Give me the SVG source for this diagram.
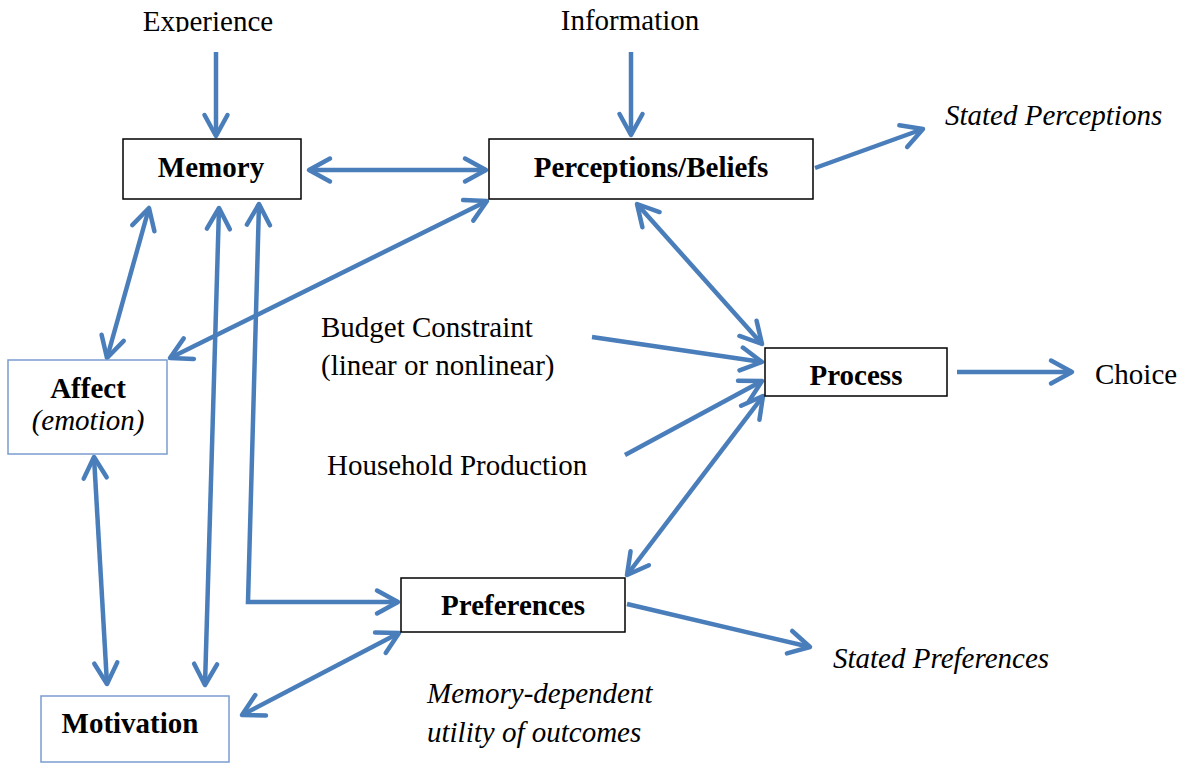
<svg xmlns="http://www.w3.org/2000/svg" width="1184" height="764" viewBox="0 0 1184 764">
<style>
.t{font-family:"Liberation Serif","Times New Roman",serif;font-size:29px;fill:#000}
.b{font-weight:bold}
.i{font-style:italic}
.box{fill:#fff;stroke:#000;stroke-width:1.5}
.bbox{fill:#fff;stroke:#7a9ccf;stroke-width:1.5}
.c{fill:none;stroke:#4a7ebb;stroke-width:4.5;stroke-linecap:butt;stroke-linejoin:miter}
</style>
<defs>
<marker id="ah" markerUnits="userSpaceOnUse" markerWidth="40" markerHeight="40" refX="0" refY="0" orient="auto-start-reverse" overflow="visible">
<path d="M-21,-11.5 L0,0 L-21,11.5" fill="none" stroke="#4a7ebb" stroke-width="4.5" stroke-linecap="round" stroke-linejoin="round"/>
</marker>
<clipPath id="topclip"><rect x="0" y="0" width="1184" height="32"/></clipPath>
</defs>
<rect width="1184" height="764" fill="#fff"/>
<g id="connectors">
<path class="c" d="M216,52 L216,136" marker-end="url(#ah)"/>
<path class="c" d="M631,52 L631,135" marker-end="url(#ah)"/>
<path class="c" d="M309,170 L486,170" marker-start="url(#ah)" marker-end="url(#ah)"/>
<path class="c" d="M815,168 L923,129" marker-end="url(#ah)"/>
<path class="c" d="M637,204 L762,344" marker-start="url(#ah)" marker-end="url(#ah)"/>
<path class="c" d="M592,337 L762,362" marker-end="url(#ah)"/>
<path class="c" d="M625,455 L762,381" marker-end="url(#ah)"/>
<path class="c" d="M627,575 L763,396" marker-start="url(#ah)" marker-end="url(#ah)"/>
<path class="c" d="M957,372 L1072,372" marker-end="url(#ah)"/>
<path class="c" d="M149,208 L107,358" marker-start="url(#ah)" marker-end="url(#ah)"/>
<path class="c" d="M487,201 L170,358" marker-start="url(#ah)" marker-end="url(#ah)"/>
<path class="c" d="M219,208 L205,685" marker-start="url(#ah)" marker-end="url(#ah)"/>
<path class="c" d="M259,204 L248,602 L398,602" marker-start="url(#ah)" marker-end="url(#ah)"/>
<path class="c" d="M94,457 L107,684" marker-start="url(#ah)" marker-end="url(#ah)"/>
<path class="c" d="M399,633 L242,715" marker-start="url(#ah)" marker-end="url(#ah)"/>
<path class="c" d="M627,604 L810,647" marker-end="url(#ah)"/>
</g>
<g id="experience"><text class="t" x="208" y="31" text-anchor="middle" clip-path="url(#topclip)">Experience</text></g>
<g id="information"><text class="t" x="630" y="30" text-anchor="middle">Information</text></g>
<g id="memory"><rect class="box" x="123" y="139" width="178" height="60"/><text class="t b" x="211" y="177" text-anchor="middle">Memory</text></g>
<g id="perceptions"><rect class="box" x="489" y="139" width="324" height="60"/><text class="t b" x="651" y="177" text-anchor="middle">Perceptions/Beliefs</text></g>
<g id="stated-perceptions"><text class="t i" x="945" y="125">Stated Perceptions</text></g>
<g id="affect"><rect class="bbox" x="8" y="360" width="159" height="94"/><text class="t b" x="88" y="398" text-anchor="middle">Affect</text><text class="t i" x="88" y="430" text-anchor="middle">(emotion)</text></g>
<g id="budget"><text class="t" x="321" y="337">Budget Constraint</text><text class="t" x="321" y="375">(linear or nonlinear)</text></g>
<g id="household"><text class="t" x="327" y="475">Household Production</text></g>
<g id="process"><rect class="box" x="765" y="348" width="182" height="48"/><text class="t b" x="856" y="385" text-anchor="middle">Process</text></g>
<g id="choice"><text class="t" x="1095" y="384">Choice</text></g>
<g id="preferences"><rect class="box" x="401" y="578" width="224" height="54"/><text class="t b" x="513" y="615" text-anchor="middle">Preferences</text></g>
<g id="stated-preferences"><text class="t i" x="833" y="668">Stated Preferences</text></g>
<g id="motivation"><rect class="bbox" x="41" y="696" width="188" height="66"/><text class="t b" x="130" y="733" text-anchor="middle">Motivation</text></g>
<g id="memory-dependent"><text class="t i" x="427" y="703">Memory-dependent</text><text class="t i" x="427" y="742">utility of outcomes</text></g>
</svg>
